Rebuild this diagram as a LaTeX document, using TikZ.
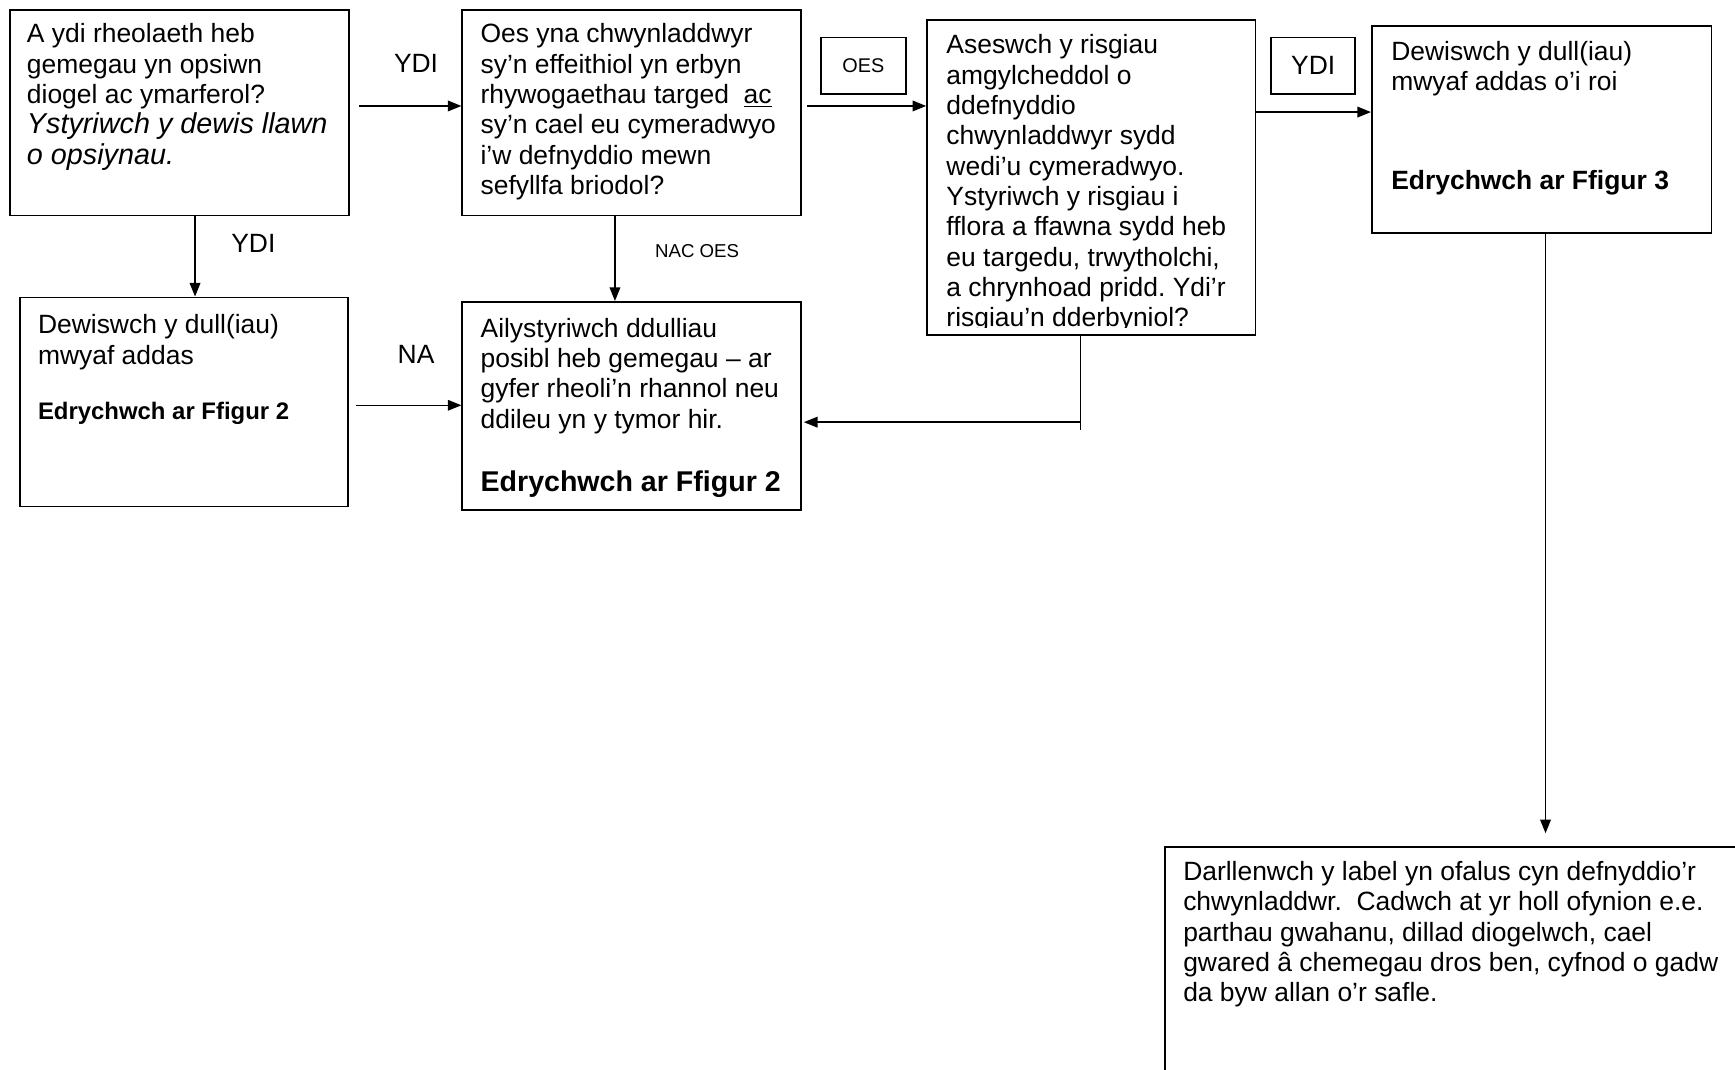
\documentclass[tikz,border=0pt]{standalone}
\usepackage{fontspec}
\setmainfont{Liberation Sans}
\usepackage{tikz}
\usetikzlibrary{calc, arrows.meta, positioning}
\frenchspacing

\tikzset{
  box/.style={draw, line width=0.9pt, anchor=north west, inner sep=0pt},
  txt/.style={anchor=north west, inner sep=0pt, align=left, font=\fontsize{13.6}{15.6}\selectfont},
  lbl/.style={inner sep=0pt, font=\fontsize{13.6}{15.6}\selectfont},
  small/.style={inner sep=0pt, font=\fontsize{9.6}{11}\selectfont},
  arr/.style={-{Triangle[length=7pt,width=5.5pt]}, line width=0.7pt},
}

\begin{document}
\begin{tikzpicture}[x=0.02cm, y=-0.02cm]
  \clip (0,0) rectangle (1568,967);
  \fill[white] (0,0) rectangle (1568,967);
  % blychau
  \node[box, minimum width=6.14cm, minimum height=3.72cm] (q1) at (8,8) {};
  \node[box, minimum width=6.12cm, minimum height=3.72cm] (q2) at (417,8) {};
  \node[box, minimum width=5.94cm, minimum height=5.70cm] (q3) at (837,17) {};
  \node[box, minimum width=6.14cm, minimum height=3.74cm] (q6) at (1239,23) {};
  \node[box, minimum width=5.94cm, minimum height=3.78cm] (d1) at (17,268) {};
  \node[box, minimum width=6.12cm, minimum height=3.76cm] (q4) at (417,272) {};
  \node[box, minimum width=11cm, minimum height=5cm] (q7) at (1052,765) {};
  \node[box, minimum width=1.54cm, minimum height=1.02cm, small, font=\fontsize{10.2}{12}\selectfont] (oes) at (741,33) {OES};
  \node[box, minimum width=1.52cm, minimum height=1.02cm, lbl] (ydi) at (1148,33) {YDI};
  % testun
  \node[txt] (q1t) at ($(q1.north west)+(16,13)$) {A ydi rheolaeth heb\\ gemegau yn opsiwn\\ diogel ac ymarferol?\\ \fontsize{14.8}{16}\selectfont\textit{Ystyriwch y dewis llawn}\\ \fontsize{14.8}{16}\selectfont\textit{o opsiynau.}};
  \node[txt] (q2t) at ($(q2.north west)+(17,13)$) {Oes yna chwynladdwyr\\ sy’n effeithiol yn erbyn\\ rhywogaethau targed\ \ \underline{ac}\\ sy’n cael eu cymeradwyo\\ i’w defnyddio mewn\\ sefyllfa briodol?};
  \begin{scope}
    \clip ($(q3.north west)+(0,1)$) rectangle ($(q3.south east)+(0,-8)$);
    \node[txt] (q3t) at ($(q3.north west)+(18,14)$) {Aseswch y risgiau\\ amgylcheddol o\\ ddefnyddio\\ chwynladdwyr sydd\\ wedi’u cymeradwyo.\\ Ystyriwch y risgiau i\\ fflora a ffawna sydd heb\\ eu targedu, trwytholchi,\\ a chrynhoad pridd. Ydi’r\\ risgiau’n dderbyniol?};
  \end{scope}
  \node[txt] (q6t) at ($(q6.north west)+(18,14)$) {Dewiswch y dull(iau)\\ mwyaf addas o’i roi\\[35pt] \textbf{Edrychwch ar Ffigur 3}};
  \node[txt] (d1t) at ($(d1.north west)+(17,16)$) {Dewiswch y dull(iau)\\ mwyaf addas\\[13pt] \fontsize{12.3}{14}\selectfont\textbf{Edrychwch ar Ffigur 2}};
  \node[txt] (q4t) at ($(q4.north west)+(17,15)$) {Ailystyriwch ddulliau\\ posibl heb gemegau – ar\\ gyfer rheoli’n rhannol neu\\ ddileu yn y tymor hir.\\[17pt] \fontsize{14.7}{17}\selectfont\textbf{Edrychwch ar Ffigur 2}};
  \node[txt] (q7t) at ($(q7.north west)+(17,13)$) {Darllenwch y label yn ofalus cyn defnyddio’r\\ chwynladdwr.\ \ Cadwch at yr holl ofynion e.e.\\ parthau gwahanu, dillad diogelwch, cael\\ gwared â chemegau dros ben, cyfnod o gadw\\ da byw allan o’r safle.};
  % labeli
  \node[lbl] (l1) at (376,57) {YDI};
  \node[lbl] (l2) at (229,220) {YDI};
  \node[lbl] (l3) at (376,320) {NA};
  \node[small] (l4) at (630,227) {NAC OES};
  % saethau
  \coordinate (a1) at ($(q1.east)+(8,-6)$);
  \draw[arr] (a1) -- (a1 -| q2.west);
  \coordinate (a2) at ($(q2.east)+(5,-6)$);
  \draw[arr] (a2) -- (a2 -| q3.west);
  \coordinate (a3) at ($(q6.west)+(0,-16)$);
  \draw[arr] (a3 -| q3.east) -- (a3);
  \coordinate (a4) at ($(q1.south)+(14,0)$);
  \draw[arr] (a4) -- (a4 |- d1.north);
  \coordinate (a5) at ($(d1.east)+(6,3)$);
  \draw[arr] (a5) -- (a5 -| q4.west);
  \coordinate (a6) at ($(q2.south)+(-15,0)$);
  \draw[arr] (a6) -- (a6 |- q4.north);
  \coordinate (a7) at ($(q3.south)+(-10,0)$);
  \coordinate (a8) at ($(a7)+(0,78)$);
  \draw[line width=0.7pt] (a7) -- ++(0,85);
  \draw[arr] (a8) -- ($(a8 -| q4.east)+(2,0)$);
  \coordinate (a9) at ($(q6.south)+(3.5,-2)$);
  \coordinate (a10) at (a9 |- q7.north);
  \draw[arr] (a9) -- ($(a10)+(0,-12)$);
\end{tikzpicture}
\end{document}
